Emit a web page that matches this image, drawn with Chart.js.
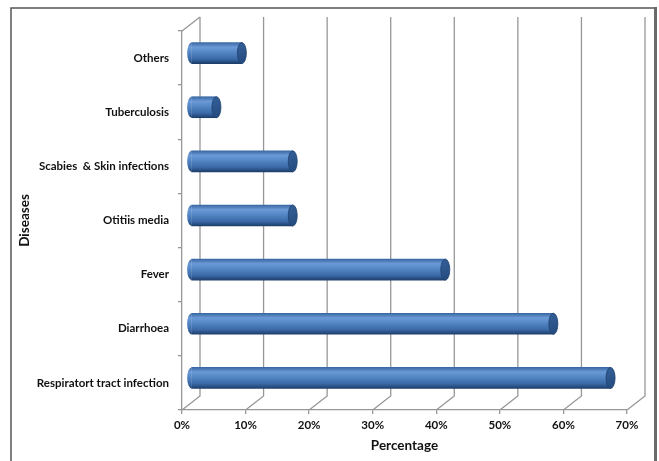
<!DOCTYPE html>
<html>
<head>
<meta charset="utf-8">
<script src="https://cdn.jsdelivr.net/npm/chart.js@4/dist/chart.umd.min.js"></script>
<style>
  html, body { margin: 0; padding: 0; background: #fff; }
  canvas { display: block; }
</style>
</head>
<body>
<canvas id="chart" width="659" height="461"></canvas>
<script>
// Diseases and their share of cases (%)
const diseases = [
  'Others',
  'Tuberculosis',
  'Scabies  & Skin infections',
  'Otitiis media',
  'Fever',
  'Diarrhoea',
  'Respiratort tract infection'
];
const percentages = [8, 4, 16, 16, 40, 57, 66];
const percentTicks = [0, 10, 20, 30, 40, 50, 60, 70];

// 3D look: depth of the back wall relative to the front plane
const DEPTH_X = 18, DEPTH_Y = -14;
const BAR_DX = DEPTH_X / 2, BAR_DY = -5;
const BAR_THICK = 21;
const CAP_RX = 4.5;
const LINE_GRAY = '#979797';
const TEXT = '#111';
const FONT = 'Lato, "Liberation Sans", Arial, sans-serif';

function cylinderGradient(c, yc, h) {
  const g = c.createLinearGradient(0, yc - h / 2, 0, yc + h / 2);
  g.addColorStop(0, '#3a68a5');
  g.addColorStop(0.22, '#6b9ad6');
  g.addColorStop(0.45, '#5587c6');
  g.addColorStop(0.78, '#3a69a6');
  g.addColorStop(1, '#1d3e6b');
  return g;
}

// Frame, back wall gridlines and floor edges
const frame3d = {
  id: 'frame3d',
  beforeDraw(chart) {
    const c = chart.ctx;
    c.save();
    c.fillStyle = '#fff';
    c.fillRect(0, 0, chart.width, chart.height);
    c.strokeStyle = '#555';
    c.lineWidth = 1.5;
    c.beginPath();
    c.moveTo(11, 480); c.lineTo(11, 8); c.lineTo(655, 8);
    c.stroke();
    c.strokeStyle = '#6a6a6a';
    c.lineWidth = 3;
    c.beginPath();
    c.moveTo(655.5, 7); c.lineTo(655.5, 480);
    c.stroke();
    c.restore();
  },
  beforeDatasetsDraw(chart) {
    const c = chart.ctx, xs = chart.scales.x, area = chart.chartArea;
    c.save();
    c.strokeStyle = LINE_GRAY;
    c.lineWidth = 1.3;
    const backTop = area.top + DEPTH_Y;
    const backBottom = area.bottom + DEPTH_Y;
    percentTicks.forEach(v => {
      const xf = xs.getPixelForValue(v);
      const xb = xf + DEPTH_X;
      c.beginPath();
      c.moveTo(xb, backTop); c.lineTo(xb, backBottom); c.lineTo(xf, area.bottom);
      c.stroke();
    });
    // top edge of the side wall
    c.beginPath();
    c.moveTo(area.left, area.top); c.lineTo(area.left + DEPTH_X, backTop);
    c.stroke();
    c.restore();
    // bars sit halfway into the depth
    c.save();
    c.translate(BAR_DX, BAR_DY);
  },
  afterDatasetsDraw(chart) {
    const c = chart.ctx;
    const meta = chart.getDatasetMeta(0);
    meta.data.forEach(bar => {
      const h = bar.height, yc = bar.y;
      // rounded start of the cylinder
      c.beginPath();
      c.ellipse(bar.base, yc, CAP_RX, h / 2, 0, Math.PI / 2, Math.PI * 1.5);
      c.closePath();
      c.fillStyle = cylinderGradient(c, yc, h);
      c.fill();
      // end face
      const g = c.createLinearGradient(bar.x - CAP_RX, yc - h / 2, bar.x + CAP_RX, yc + h / 2);
      g.addColorStop(0, '#34609a');
      g.addColorStop(1, '#244a7c');
      c.beginPath();
      c.ellipse(bar.x, yc, CAP_RX, h / 2, 0, 0, Math.PI * 2);
      c.fillStyle = g;
      c.fill();
      c.strokeStyle = '#1f406c';
      c.lineWidth = 0.8;
      c.stroke();
    });
    c.restore();
  }
};

new Chart(document.getElementById('chart'), {
  type: 'bar',
  data: {
    labels: diseases,
    datasets: [{
      data: percentages,
      barThickness: BAR_THICK,
      borderWidth: 0,
      backgroundColor: ctx => {
        const ys = ctx.chart.scales.y;
        const yc = ys ? ys.getPixelForValue(ctx.dataIndex) : NaN;
        if (!Number.isFinite(yc)) return '#4f81bd';
        return cylinderGradient(ctx.chart.ctx, yc, BAR_THICK);
      }
    }]
  },
  options: {
    indexAxis: 'y',
    responsive: false,
    animation: false,
    devicePixelRatio: 1,
    layout: { padding: { top: 31, right: 32, left: 0, bottom: 0 } },
    plugins: { legend: { display: false }, tooltip: { enabled: false } },
    scales: {
      x: {
        min: 0, max: 70,
        afterFit(scale) { scale.height = 51; },
        afterBuildTicks(scale) { scale.ticks = percentTicks.map(v => ({ value: v })); },
        grid: { drawOnChartArea: false, drawTicks: true, tickLength: 4, color: LINE_GRAY, lineWidth: 1.3 },
        border: { display: true, color: LINE_GRAY, width: 1.3 },
        ticks: {
          padding: 4,
          color: TEXT,
          font: { family: FONT, size: 11.5, weight: 'bold' },
          callback: v => v + '%'
        },
        title: {
          display: true,
          text: 'Percentage',
          color: TEXT,
          font: { family: FONT, size: 13.5, weight: 'bold' },
          padding: { top: 0, bottom: 7 }
        }
      },
      y: {
        afterFit(scale) { scale.width = 182; },
        grid: { drawOnChartArea: false, drawTicks: true, tickLength: 4, color: LINE_GRAY, lineWidth: 1.3, offset: true },
        border: { display: true, color: LINE_GRAY, width: 1.3 },
        ticks: {
          padding: 9,
          color: TEXT,
          font: { family: FONT, size: 11.5, weight: 'bold' }
        },
        title: {
          display: true,
          text: 'Diseases',
          color: TEXT,
          font: { family: FONT, size: 13.5, weight: 'bold' },
          padding: { top: 17, bottom: 0 }
        }
      }
    }
  },
  plugins: [frame3d]
});
</script>
</body>
</html>
